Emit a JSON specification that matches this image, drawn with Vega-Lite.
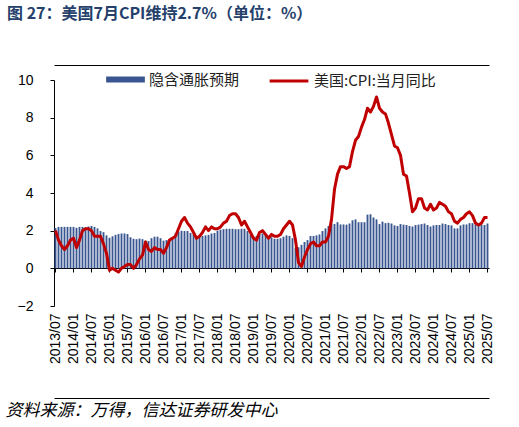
{
  "$schema": "https://vega.github.io/schema/vega-lite/v6.json",
  "width": 435,
  "height": 226,
  "autosize": {"type": "none"},
  "padding": {"left": 54, "top": 80, "right": 30, "bottom": 121},
  "background": "white",
  "view": {"stroke": null},
  "config": {"axisY": {"labelOverlap": false}},
  "title": {
    "text": "图 27：美国7月CPI维持2.7%（单位：%）",
    "anchor": "start",
    "frame": "group",
    "dx": -47,
    "offset": 38,
    "font": "Noto Sans CJK SC",
    "fontSize": 16,
    "fontWeight": "bold",
    "color": "#24406b"
  },
  "data": {
    "values": [
      {"m": "2013/07", "cpi": 2.0, "be": 2.14},
      {"m": "2013/08", "cpi": 1.5, "be": 2.2},
      {"m": "2013/09", "cpi": 1.2, "be": 2.2},
      {"m": "2013/10", "cpi": 1.0, "be": 2.2},
      {"m": "2013/11", "cpi": 1.2, "be": 2.2},
      {"m": "2013/12", "cpi": 1.5, "be": 2.2},
      {"m": "2014/01", "cpi": 1.6, "be": 2.2},
      {"m": "2014/02", "cpi": 1.1, "be": 2.15},
      {"m": "2014/03", "cpi": 1.5, "be": 2.2},
      {"m": "2014/04", "cpi": 2.0, "be": 2.2},
      {"m": "2014/05", "cpi": 2.1, "be": 2.18},
      {"m": "2014/06", "cpi": 2.1, "be": 2.22},
      {"m": "2014/07", "cpi": 2.0, "be": 2.25},
      {"m": "2014/08", "cpi": 1.7, "be": 2.2},
      {"m": "2014/09", "cpi": 1.7, "be": 2.12},
      {"m": "2014/10", "cpi": 1.7, "be": 1.98},
      {"m": "2014/11", "cpi": 1.3, "be": 1.92},
      {"m": "2014/12", "cpi": 0.8, "be": 1.75},
      {"m": "2015/01", "cpi": -0.1, "be": 1.62},
      {"m": "2015/02", "cpi": 0.0, "be": 1.7},
      {"m": "2015/03", "cpi": -0.1, "be": 1.78},
      {"m": "2015/04", "cpi": -0.2, "be": 1.82},
      {"m": "2015/05", "cpi": 0.0, "be": 1.85},
      {"m": "2015/06", "cpi": 0.1, "be": 1.85},
      {"m": "2015/07", "cpi": 0.2, "be": 1.82},
      {"m": "2015/08", "cpi": 0.2, "be": 1.65},
      {"m": "2015/09", "cpi": 0.0, "be": 1.57},
      {"m": "2015/10", "cpi": 0.2, "be": 1.55},
      {"m": "2015/11", "cpi": 0.5, "be": 1.58},
      {"m": "2015/12", "cpi": 0.7, "be": 1.55},
      {"m": "2016/01", "cpi": 1.4, "be": 1.47},
      {"m": "2016/02", "cpi": 1.0, "be": 1.45},
      {"m": "2016/03", "cpi": 0.9, "be": 1.6},
      {"m": "2016/04", "cpi": 1.1, "be": 1.68},
      {"m": "2016/05", "cpi": 1.0, "be": 1.68},
      {"m": "2016/06", "cpi": 1.0, "be": 1.6},
      {"m": "2016/07", "cpi": 0.8, "be": 1.47},
      {"m": "2016/08", "cpi": 1.1, "be": 1.5},
      {"m": "2016/09", "cpi": 1.5, "be": 1.55},
      {"m": "2016/10", "cpi": 1.6, "be": 1.65},
      {"m": "2016/11", "cpi": 1.7, "be": 1.85},
      {"m": "2016/12", "cpi": 2.1, "be": 1.95},
      {"m": "2017/01", "cpi": 2.5, "be": 2.0},
      {"m": "2017/02", "cpi": 2.7, "be": 1.98},
      {"m": "2017/03", "cpi": 2.4, "be": 1.98},
      {"m": "2017/04", "cpi": 2.2, "be": 1.88},
      {"m": "2017/05", "cpi": 1.9, "be": 1.82},
      {"m": "2017/06", "cpi": 1.6, "be": 1.72},
      {"m": "2017/07", "cpi": 1.7, "be": 1.7},
      {"m": "2017/08", "cpi": 1.9, "be": 1.72},
      {"m": "2017/09", "cpi": 2.2, "be": 1.75},
      {"m": "2017/10", "cpi": 2.0, "be": 1.78},
      {"m": "2017/11", "cpi": 2.2, "be": 1.85},
      {"m": "2017/12", "cpi": 2.1, "be": 1.88},
      {"m": "2018/01", "cpi": 2.1, "be": 2.0},
      {"m": "2018/02", "cpi": 2.2, "be": 2.05},
      {"m": "2018/03", "cpi": 2.4, "be": 2.08},
      {"m": "2018/04", "cpi": 2.5, "be": 2.1},
      {"m": "2018/05", "cpi": 2.8, "be": 2.1},
      {"m": "2018/06", "cpi": 2.9, "be": 2.1},
      {"m": "2018/07", "cpi": 2.9, "be": 2.08},
      {"m": "2018/08", "cpi": 2.7, "be": 2.08},
      {"m": "2018/09", "cpi": 2.3, "be": 2.1},
      {"m": "2018/10", "cpi": 2.5, "be": 2.1},
      {"m": "2018/11", "cpi": 2.2, "be": 1.98},
      {"m": "2018/12", "cpi": 1.9, "be": 1.8},
      {"m": "2019/01", "cpi": 1.6, "be": 1.65},
      {"m": "2019/02", "cpi": 1.5, "be": 1.72},
      {"m": "2019/03", "cpi": 1.9, "be": 1.82},
      {"m": "2019/04", "cpi": 2.0, "be": 1.85},
      {"m": "2019/05", "cpi": 1.8, "be": 1.8},
      {"m": "2019/06", "cpi": 1.6, "be": 1.7},
      {"m": "2019/07", "cpi": 1.8, "be": 1.65},
      {"m": "2019/08", "cpi": 1.7, "be": 1.57},
      {"m": "2019/09", "cpi": 1.7, "be": 1.57},
      {"m": "2019/10", "cpi": 1.8, "be": 1.6},
      {"m": "2019/11", "cpi": 2.1, "be": 1.68},
      {"m": "2019/12", "cpi": 2.3, "be": 1.75},
      {"m": "2020/01", "cpi": 2.5, "be": 1.72},
      {"m": "2020/02", "cpi": 2.3, "be": 1.6},
      {"m": "2020/03", "cpi": 1.5, "be": 1.1},
      {"m": "2020/04", "cpi": 0.3, "be": 1.12},
      {"m": "2020/05", "cpi": 0.1, "be": 1.25},
      {"m": "2020/06", "cpi": 0.6, "be": 1.4},
      {"m": "2020/07", "cpi": 1.0, "be": 1.5},
      {"m": "2020/08", "cpi": 1.3, "be": 1.72},
      {"m": "2020/09", "cpi": 1.4, "be": 1.72},
      {"m": "2020/10", "cpi": 1.2, "be": 1.75},
      {"m": "2020/11", "cpi": 1.2, "be": 1.8},
      {"m": "2020/12", "cpi": 1.4, "be": 1.98},
      {"m": "2021/01", "cpi": 1.4, "be": 2.12},
      {"m": "2021/02", "cpi": 1.7, "be": 2.25},
      {"m": "2021/03", "cpi": 2.6, "be": 2.38},
      {"m": "2021/04", "cpi": 4.2, "be": 2.35},
      {"m": "2021/05", "cpi": 5.0, "be": 2.45},
      {"m": "2021/06", "cpi": 5.4, "be": 2.33},
      {"m": "2021/07", "cpi": 5.4, "be": 2.33},
      {"m": "2021/08", "cpi": 5.3, "be": 2.32},
      {"m": "2021/09", "cpi": 5.4, "be": 2.38},
      {"m": "2021/10", "cpi": 6.2, "be": 2.55},
      {"m": "2021/11", "cpi": 6.8, "be": 2.6},
      {"m": "2021/12", "cpi": 7.0, "be": 2.45},
      {"m": "2022/01", "cpi": 7.5, "be": 2.45},
      {"m": "2022/02", "cpi": 7.9, "be": 2.45},
      {"m": "2022/03", "cpi": 8.5, "be": 2.85},
      {"m": "2022/04", "cpi": 8.3, "be": 2.87},
      {"m": "2022/05", "cpi": 8.6, "be": 2.7},
      {"m": "2022/06", "cpi": 9.1, "be": 2.6},
      {"m": "2022/07", "cpi": 8.5, "be": 2.35},
      {"m": "2022/08", "cpi": 8.3, "be": 2.48},
      {"m": "2022/09", "cpi": 8.2, "be": 2.4},
      {"m": "2022/10", "cpi": 7.7, "be": 2.42},
      {"m": "2022/11", "cpi": 7.1, "be": 2.38},
      {"m": "2022/12", "cpi": 6.5, "be": 2.28},
      {"m": "2023/01", "cpi": 6.4, "be": 2.25},
      {"m": "2023/02", "cpi": 6.0, "be": 2.35},
      {"m": "2023/03", "cpi": 5.0, "be": 2.32},
      {"m": "2023/04", "cpi": 4.9, "be": 2.3},
      {"m": "2023/05", "cpi": 4.0, "be": 2.25},
      {"m": "2023/06", "cpi": 3.0, "be": 2.22},
      {"m": "2023/07", "cpi": 3.2, "be": 2.3},
      {"m": "2023/08", "cpi": 3.7, "be": 2.32},
      {"m": "2023/09", "cpi": 3.7, "be": 2.35},
      {"m": "2023/10", "cpi": 3.2, "be": 2.38},
      {"m": "2023/11", "cpi": 3.1, "be": 2.3},
      {"m": "2023/12", "cpi": 3.4, "be": 2.22},
      {"m": "2024/01", "cpi": 3.1, "be": 2.28},
      {"m": "2024/02", "cpi": 3.2, "be": 2.3},
      {"m": "2024/03", "cpi": 3.5, "be": 2.3},
      {"m": "2024/04", "cpi": 3.4, "be": 2.38},
      {"m": "2024/05", "cpi": 3.3, "be": 2.35},
      {"m": "2024/06", "cpi": 3.0, "be": 2.3},
      {"m": "2024/07", "cpi": 2.9, "be": 2.28},
      {"m": "2024/08", "cpi": 2.5, "be": 2.12},
      {"m": "2024/09", "cpi": 2.4, "be": 2.12},
      {"m": "2024/10", "cpi": 2.6, "be": 2.28},
      {"m": "2024/11", "cpi": 2.7, "be": 2.33},
      {"m": "2024/12", "cpi": 2.9, "be": 2.33},
      {"m": "2025/01", "cpi": 3.0, "be": 2.4},
      {"m": "2025/02", "cpi": 2.8, "be": 2.4},
      {"m": "2025/03", "cpi": 2.4, "be": 2.32},
      {"m": "2025/04", "cpi": 2.3, "be": 2.25},
      {"m": "2025/05", "cpi": 2.4, "be": 2.32},
      {"m": "2025/06", "cpi": 2.7, "be": 2.3},
      {"m": "2025/07", "cpi": 2.7, "be": 2.38}
    ]
  },
  "layer": [
    {
      "mark": {"type": "bar", "width": {"band": 0.62}},
      "encoding": {
        "x": {
          "field": "m",
          "type": "ordinal",
          "sort": null,
          "scale": {"type": "band", "paddingInner": 0, "paddingOuter": 0},
          "axis": {
            "orient": "bottom",
            "offset": 92,
            "values": ["2013/07", "2014/01", "2014/07", "2015/01", "2015/07", "2016/01", "2016/07", "2017/01", "2017/07", "2018/01", "2018/07", "2019/01", "2019/07", "2020/01", "2020/07", "2021/01", "2021/07", "2022/01", "2022/07", "2023/01", "2023/07", "2024/01", "2024/07", "2025/01", "2025/07"],
            "domain": true,
            "domainColor": "#000000",
            "domainWidth": 1.2,
            "ticks": false,
            "labelAngle": -90,
            "labelPadding": -85,
            "labelFont": "Liberation Sans",
            "labelFontSize": 14,
            "labelColor": "#000000",
            "title": "资料来源：万得，信达证券研发中心",
            "titleFont": "Noto Sans CJK SC",
            "titleFontSize": 17,
            "titleFontStyle": "italic",
            "titleFontWeight": "normal",
            "titleColor": "#000000",
            "titleAnchor": "start",
            "titleAlign": "left",
            "titleBaseline": "middle",
            "titleX": -49,
            "titleY": 12
          }
        },
        "y": {
          "field": "be",
          "type": "quantitative",
          "scale": {"domain": [-2, 10], "nice": false, "zero": false},
          "axis": {
            "values": [-2, 0, 2, 4, 6, 8, 10],
            "labelOverlap": false,
            "grid": false,
            "title": null,
            "domainColor": "#000000",
            "tickColor": "#000000",
            "tickSize": 4,
            "labelPadding": 17,
            "labelFont": "Liberation Sans",
            "labelFontSize": 14,
            "labelColor": "#000000"
          }
        },
        "color": {
          "datum": "隐含通胀预期",
          "scale": {"range": ["#3a5690"]},
          "legend": {
            "orient": "none",
            "legendX": 52,
            "legendY": -20,
            "title": null,
            "symbolType": "M-1,-0.16H1V0.16H-1Z",
            "symbolSize": 1500,
            "symbolStrokeWidth": 0,
            "labelFont": "Noto Sans CJK SC",
            "labelFontSize": 15,
            "labelColor": "#222222",
            "encode": {"symbols": {"update": {"fill": {"value": "#0f2a66"}}}}
          }
        }
      }
    },
    {
      "mark": {"type": "line", "strokeWidth": 3, "strokeJoin": "round"},
      "encoding": {
        "x": {
          "field": "m",
          "type": "ordinal",
          "sort": null,
          "axis": {
            "orient": "bottom",
            "offset": -38,
            "values": ["2013/07", "2014/01", "2014/07", "2015/01", "2015/07", "2016/01", "2016/07", "2017/01", "2017/07", "2018/01", "2018/07", "2019/01", "2019/07", "2020/01", "2020/07", "2021/01", "2021/07", "2022/01", "2022/07", "2023/01", "2023/07", "2024/01", "2024/07", "2025/01", "2025/07"],
            "labels": false,
            "title": null,
            "domainColor": "#000000",
            "tickColor": "#000000",
            "tickSize": 4
          }
        },
        "y": {
          "field": "cpi",
          "type": "quantitative",
          "axis": {
            "values": [-2, 0, 2, 4, 6, 8, 10],
            "labelOverlap": false,
            "grid": false,
            "title": null,
            "domainColor": "#000000",
            "tickColor": "#000000",
            "tickSize": 4,
            "labelPadding": 17,
            "labelFont": "Liberation Sans",
            "labelFontSize": 14,
            "labelColor": "#000000"
          }
        },
        "color": {
          "datum": "美国:CPI:当月同比",
          "scale": {"range": ["#c00000"]},
          "legend": {
            "orient": "none",
            "legendX": 214,
            "legendY": -20,
            "title": null,
            "symbolType": "M-1,0H1",
            "symbolSize": 1500,
            "symbolStrokeWidth": 3,
            "labelFont": "Noto Sans CJK SC",
            "labelFontSize": 15,
            "labelColor": "#222222"
          }
        }
      }
    },
    {
      "mark": {"type": "bar", "opacity": 0},
      "encoding": {
        "x": {
          "field": "m",
          "type": "ordinal",
          "sort": null,
          "axis": {
            "orient": "top",
            "offset": 15,
            "domain": true,
            "domainColor": "#000000",
            "domainWidth": 1.2,
            "ticks": false,
            "labels": false,
            "title": null
          }
        }
      }
    }
  ],
  "resolve": {"scale": {"color": "independent"}, "axis": {"x": "independent"}}
}
